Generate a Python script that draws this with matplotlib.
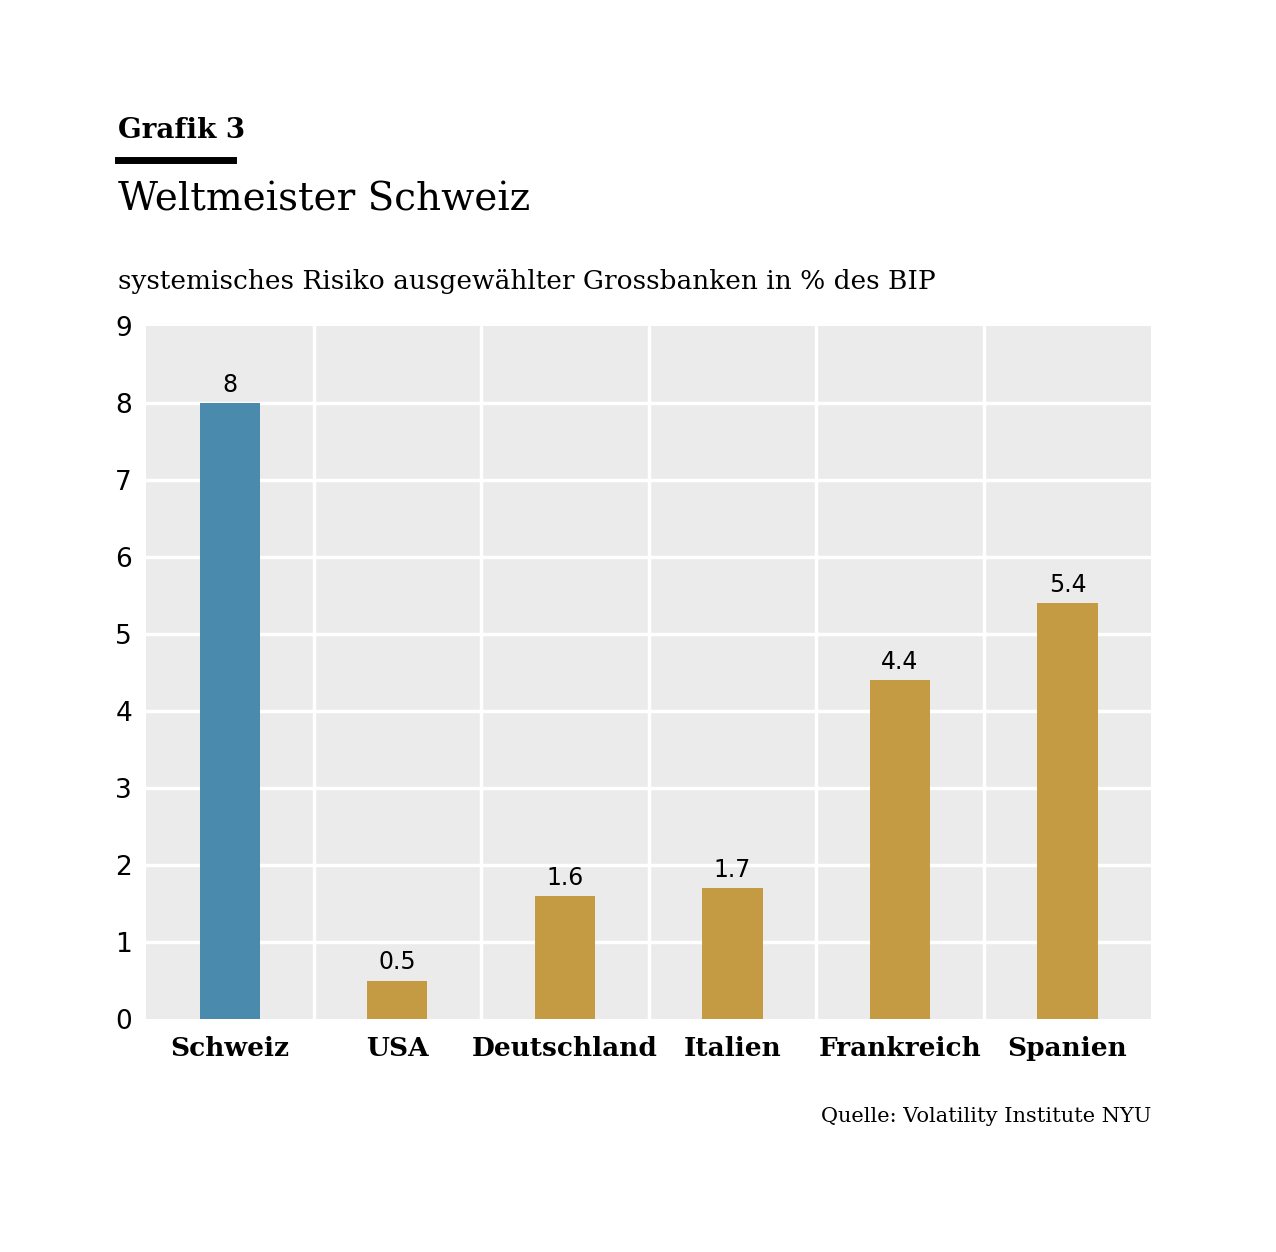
import matplotlib.pyplot as plt
import numpy as np

countries = ['Schweiz', 'USA', 'Deutschland', 'Italien', 'Frankreich', 'Spanien']
values = [8, 0.5, 1.6, 1.7, 4.4, 5.4]
value_labels = ['8', '0.5', '1.6', '1.7', '4.4', '5.4']
colors = ['#4a8bad'] + ['#c49a42'] * 5

plt.rcParams['font.family'] = ['DejaVu Serif']

fig = plt.figure(figsize=(12.76, 12.52), dpi=100)
ax = fig.add_axes([0.1144, 0.1861, 0.7878, 0.5535])
ax.set_facecolor('#ebebeb')

x = np.arange(len(countries))
ax.bar(x, values, width=0.36, color=colors, zorder=3)
for xi, v, lab in zip(x, values, value_labels):
    ax.text(xi, v + 0.08, lab, ha='center', va='bottom', fontsize=17, family='DejaVu Sans')

ax.set_xlim(-0.5, len(countries) - 0.5)
ax.set_ylim(0, 9)
ax.set_yticks(range(10))
ax.set_yticklabels([str(i) for i in range(10)], fontsize=19, family='DejaVu Sans')
ax.set_xticks(x)
ax.set_xticklabels(countries, fontsize=19, fontweight='bold')
ax.tick_params(length=0, pad=12)
ax.tick_params(axis='y', pad=10)
for i in range(1, 9):
    ax.axhline(i, color='white', lw=2.5, zorder=1)
for b in np.arange(0.5, len(countries) - 1, 1):
    ax.axvline(b, color='white', lw=2.5, zorder=1)
for s in ax.spines.values():
    s.set_visible(False)

fig.text(118 / 1276, 1 - 130 / 1252, 'Grafik 3', fontsize=20, fontweight='bold', va='center')
fig.add_artist(plt.Line2D([118 / 1276, 233 / 1276], [1 - 160 / 1252] * 2, color='black', lw=5))
fig.text(118 / 1276, 1 - 200 / 1252, 'Weltmeister Schweiz', fontsize=28, va='center')
fig.text(118 / 1276, 1 - 281 / 1252, 'systemisches Risiko ausgewählter Grossbanken in % des BIP',
         fontsize=19, va='center')
fig.text(1151 / 1276, 1 - 1116 / 1252, 'Quelle: Volatility Institute NYU', fontsize=15,
         ha='right', va='center')

fig.savefig('out.png', dpi=100, facecolor='white')
